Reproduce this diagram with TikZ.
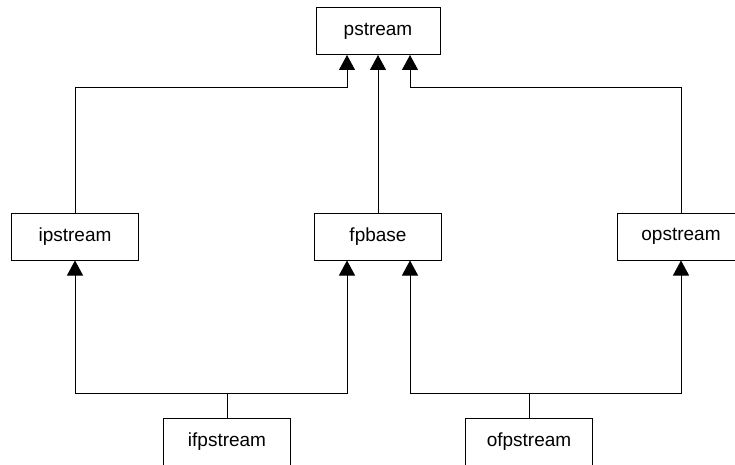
\documentclass[tikz,border=0pt]{standalone}
\usepackage{fontspec}
\setmainfont{Liberation Sans}
\usetikzlibrary{arrows.meta,calc}

\begin{document}
\begin{tikzpicture}[x=1pt, y=1pt,
    cls/.style={draw, line width=1pt, minimum width=127pt, minimum height=47pt, inner sep=0pt, font=\fontsize{19}{22}\selectfont},
    inh/.style={line width=0.9pt, -{Triangle[length=15pt, width=16pt]}}]
    \useasboundingbox (0,0) rectangle (735,464);

    \node[cls, minimum width=124pt] (pstream) at (378, 433) {pstream};
    \node[cls] (ipstream) at (75, 227.5) {ipstream};
    \node[cls] (fpbase) at (378, 227.5) {fpbase};
    \node[cls] (opstream) at (681, 227.5) {opstream};
    \node[cls] (ifpstream) at (227, 22.5) {ifpstream};
    \node[cls] (ofpstream) at (529, 22.5) {ofpstream};

    \coordinate (pL) at ([xshift=-31pt]pstream.south); \coordinate (pR) at ([xshift=32pt]pstream.south);
    \coordinate (fL) at ([xshift=-31pt]fpbase.south); \coordinate (fR) at ([xshift=32pt]fpbase.south);
    \coordinate (jI) at ($(ifpstream.north)+(0,24)$); \coordinate (jO) at ($(ofpstream.north)+(0,24)$);

    % upper level
    \draw[inh] (ipstream.north) |- ($(pL)+(0,-32)$) -- (pL);
    \draw[inh] (fpbase.north) -- (pstream.south);
    \draw[inh] (opstream.north) |- ($(pR)+(0,-32)$) -- (pR);

    % lower level
    \draw[line width=0.9pt] (ifpstream.north) -- (jI);
    \draw[inh] (jI) -| (ipstream.south);
    \draw[inh] (jI) -| (fL);
    \draw[line width=0.9pt] (ofpstream.north) -- (jO);
    \draw[inh] (jO) -| (fR);
    \draw[inh] (jO) -| (opstream.south);
\end{tikzpicture}
\end{document}
